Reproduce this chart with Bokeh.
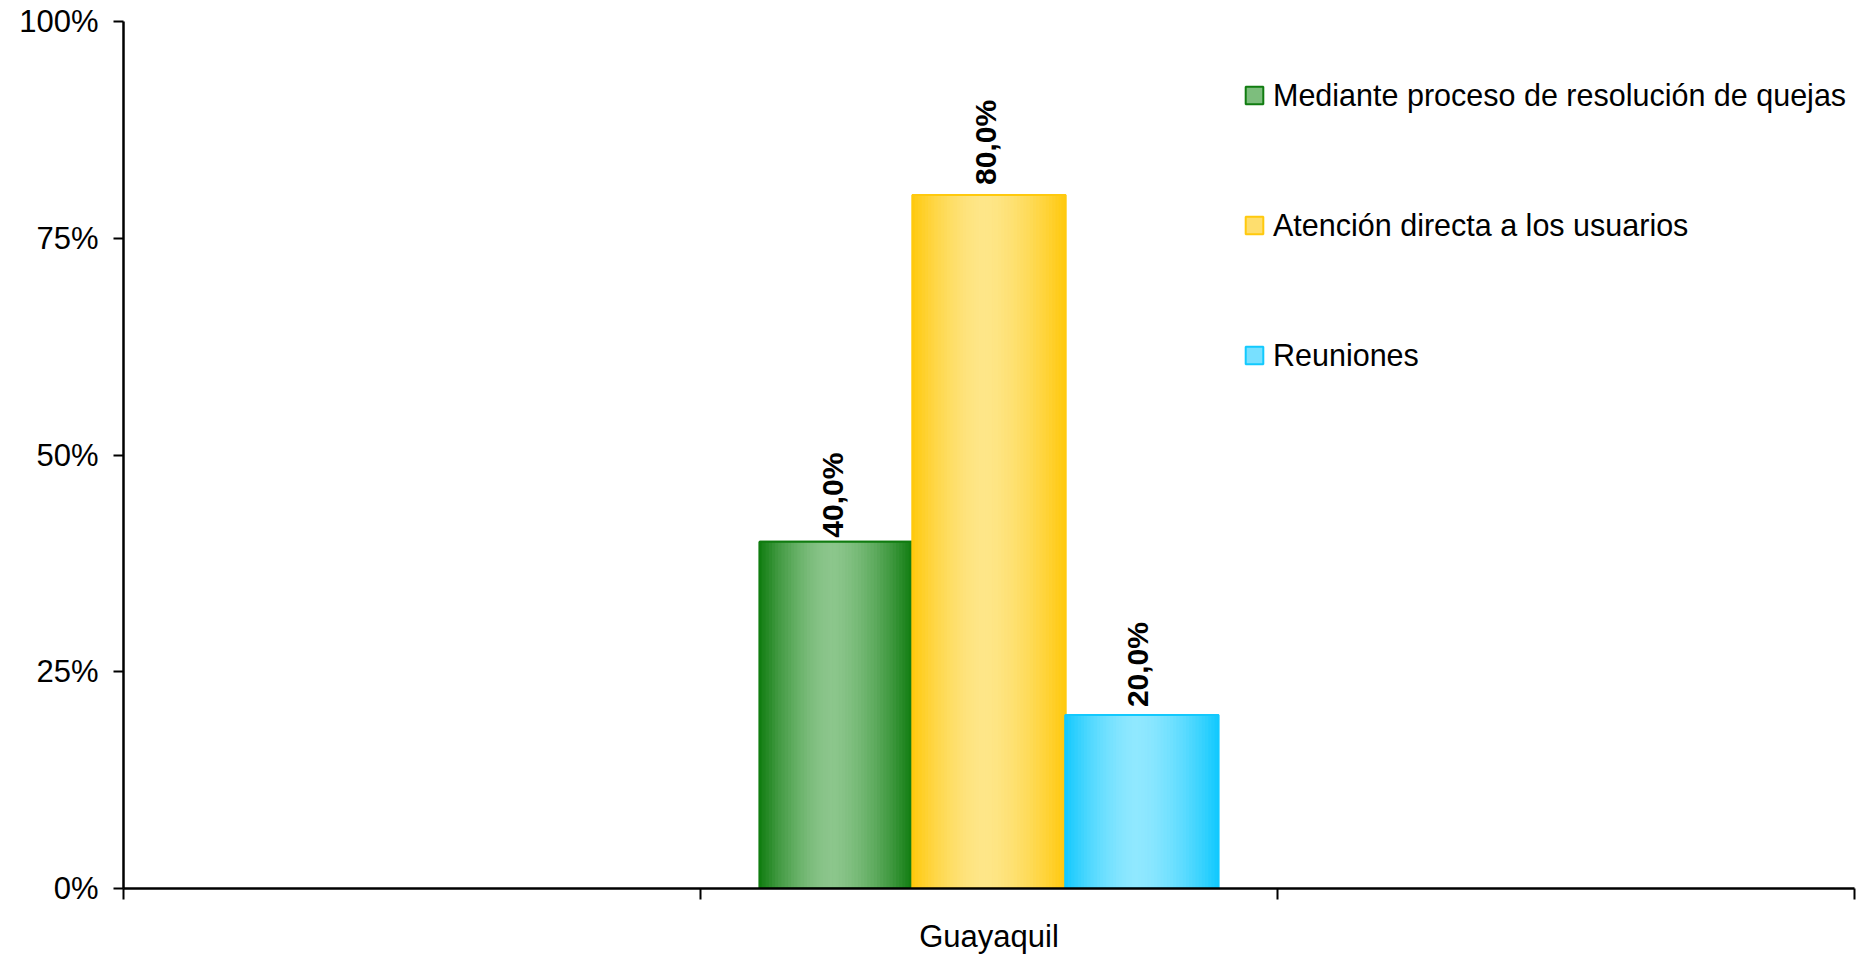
import math
from bokeh.plotting import figure
from bokeh.models import Range1d, FixedTicker, Legend, LegendItem, ColumnDataSource
from bokeh.core.properties import value
from bokeh.embed import file_html
from bokeh.resources import INLINE

# ---------------- data ----------------
categories = ["Guayaquil"]
series_names = [
    "Mediante proceso de resolución de quejas",
    "Atención directa a los usuarios",
    "Reuniones",
]
series_values = [40.0, 80.0, 20.0]
y_ticks = [0, 25, 50, 75, 100]
y_tick_labels = ["0%", "25%", "50%", "75%", "100%"]

# ---------------- style ----------------
edge_colors = ["#107C10", "#FFC90D", "#12C9FE"]
light_colors = ["#8CC68C", "#FEE689", "#90E8FF"]
swatch_colors = ["#7DBE7D", "#FEDE6E", "#78E0FF"]
label_lift = [-4, -10, -8]   # screen px gap between each bar top and its label
FONT = "Liberation Sans"
n_slots = 3          # axis is divided into three equal slots
cat_slot = 1         # the category sits in the middle slot
bar_w = 0.265
n_slices = 48


def hex2rgb(h):
    h = h.lstrip("#")
    return tuple(int(h[i:i + 2], 16) for i in (0, 2, 4))


def mix(c1, c2, f):
    a, b = hex2rgb(c1), hex2rgb(c2)
    return "#%02x%02x%02x" % tuple(int(round(a[i] + (b[i] - a[i]) * f)) for i in range(3))


def shade(edge, light, t):
    peak = 0.47
    d = abs(t - peak) / (peak if t < peak else 1 - peak)
    return mix(light, edge, d ** 1.6)


p = figure(
    width=1866, height=956,
    x_range=Range1d(0, n_slots), y_range=Range1d(0, 100),
    output_backend="svg", toolbar_location=None,
    min_border_left=123, min_border_right=12, min_border_top=21, min_border_bottom=67,
)
p.outline_line_color = None
p.xgrid.visible = False
p.ygrid.visible = False
p.background_fill_color = "white"
p.border_fill_color = "white"

n_series = len(series_names)
cat_center = cat_slot + 0.5
centers = [cat_center + (i - (n_series - 1) / 2) * bar_w for i in range(n_series)]

legend_items = []
for i, (name, v) in enumerate(zip(series_names, series_values)):
    c = centers[i]
    # swatch / base bar (used for legend)
    sw = p.vbar(x=[c], top=[v], bottom=0, width=bar_w,
                fill_color=swatch_colors[i], line_color=edge_colors[i], line_width=2)
    legend_items.append(LegendItem(label=name, renderers=[sw]))
    # gradient slices
    sx, stop, scol = [], [], []
    for k in range(n_slices):
        t = (k + 0.5) / n_slices
        sx.append(c - bar_w / 2 + t * bar_w)
        stop.append(v)
        scol.append(shade(edge_colors[i], light_colors[i], t))
    src = ColumnDataSource(dict(x=sx, top=stop, color=scol))
    p.vbar(x="x", top="top", bottom=0, width=bar_w / n_slices, source=src,
           fill_color="color", line_color="color", line_width=1)
    # crisp border
    p.vbar(x=[c], top=[v], bottom=0, width=bar_w, fill_color=None,
           line_color=edge_colors[i], line_width=2)

# value labels
labels = [("%.1f" % v).replace(".", ",") + "%" for v in series_values]
lab_src = ColumnDataSource(dict(x=centers, y=series_values, text=labels, dy=label_lift))
p.text(x="x", y="y", text="text", source=lab_src, angle=math.pi / 2,
       text_align="left", text_baseline="middle", x_offset=-4, y_offset="dy",
       text_font=value(FONT), text_font_style="bold", text_font_size="30px",
       text_color="black")

# y axis
ya = p.yaxis[0]
ya.ticker = FixedTicker(ticks=y_ticks, minor_ticks=[])
ya.major_label_overrides = {t: l for t, l in zip(y_ticks, y_tick_labels)}
ya.major_label_text_font = FONT
ya.major_label_text_font_size = "31px"
ya.major_label_text_color = "black"
ya.major_label_standoff = 15
ya.major_tick_out = 10
ya.major_tick_in = 0
ya.major_tick_line_width = 2
ya.major_tick_line_color = "black"
ya.axis_line_width = 2.5
ya.axis_line_color = "black"

# x axis
xa = p.xaxis[0]
xa.ticker = FixedTicker(ticks=[cat_slot + 0.5], minor_ticks=list(range(n_slots + 1)))
xa.major_label_overrides = {cat_slot + 0.5: categories[0]}
xa.major_label_text_font = FONT
xa.major_label_text_font_size = "31px"
xa.major_label_text_color = "black"
xa.major_label_standoff = 19
xa.major_tick_out = 0
xa.major_tick_in = 0
xa.major_tick_line_color = None
xa.minor_tick_out = 11
xa.minor_tick_in = 0
xa.minor_tick_line_width = 2
xa.minor_tick_line_color = "black"
xa.axis_line_width = 2.5
xa.axis_line_color = "black"

legend = Legend(
    items=legend_items, location=(1120, 513),
    label_text_font=FONT, label_text_font_size="30.5px", label_text_color="black",
    glyph_width=22, glyph_height=22, label_height=40, spacing=90,
    padding=0, margin=0, label_standoff=8,
    border_line_color=None, background_fill_alpha=0,
)
p.add_layout(legend)

open("out.html", "w").write(file_html(p, INLINE))
